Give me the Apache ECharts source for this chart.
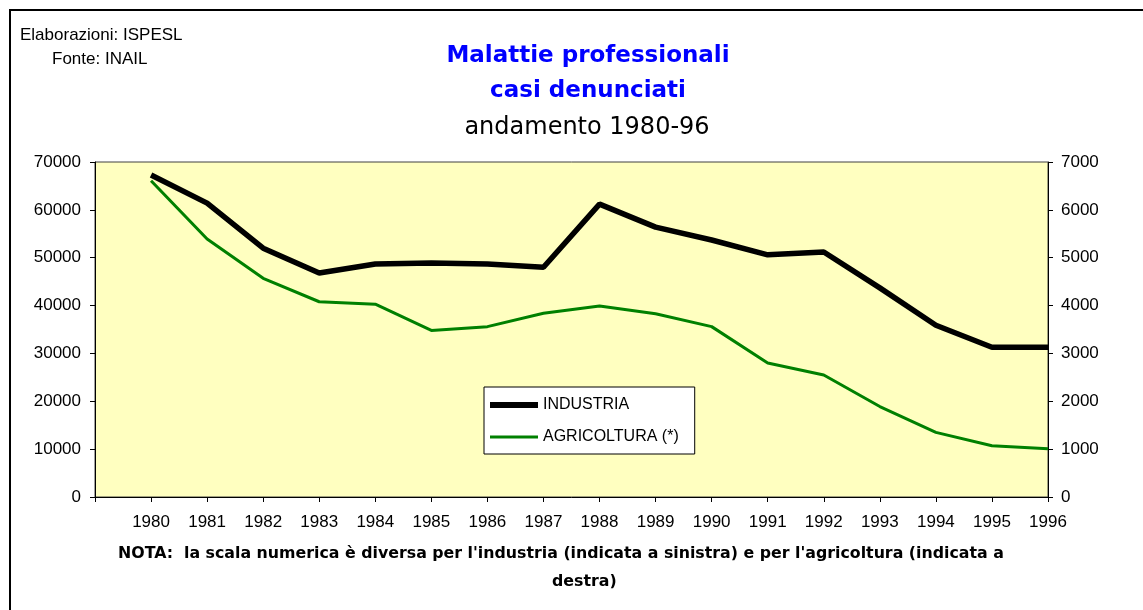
<!DOCTYPE html>
<html>
<head>
<meta charset="utf-8">
<script src="https://cdn.jsdelivr.net/npm/echarts@6/dist/echarts.min.js"></script>
<style>
html, body { margin: 0; padding: 0; background: #fff; }
#container { width: 1143px; height: 610px; }
</style>
</head>
<body>
<div id="container"></div>
<script>
// anni e valori
var anni = [1980, 1981, 1982, 1983, 1984, 1985, 1986, 1987, 1988, 1989, 1990, 1991, 1992, 1993, 1994, 1995, 1996];
// industria: scala a sinistra
var industria = [67300, 61400, 52000, 46800, 48700, 48900, 48700, 48000, 61200, 56400, 53700, 50600, 51200, 43700, 35900, 31300, 31300];
// agricoltura: scala a destra
var agricoltura = [6610, 5390, 4570, 4080, 4030, 3480, 3560, 3840, 3990, 3830, 3560, 2800, 2550, 1890, 1350, 1070, 1010];

var font = 'Liberation Sans, Arial, sans-serif';
var fontLargo = 'DejaVu Sans, sans-serif';

function coppie(valori) {
	var out = [];
	for (var i = 0; i < anni.length; i++) {
		out.push([anni[i], valori[i]]);
	}
	return out;
}

var option = {
	backgroundColor: '#fff',
	animation: false,
	title: [
		{
			text: 'Malattie professionali\ncasi denunciati',
			left: 583,
			top: 34,
			textAlign: 'center',
			textStyle: { fontFamily: fontLargo, fontSize: 23, fontWeight: 'bold', color: '#0000ff', lineHeight: 35 }
		},
		{
			text: 'andamento 1980-96',
			left: 582,
			top: 111,
			textAlign: 'center',
			textStyle: { fontFamily: fontLargo, fontSize: 24, fontWeight: 'normal', color: '#000' }
		}
	],
	graphic: [
		{
			type: 'rect',
			shape: { x: 10, y: 10, width: 1200, height: 700 },
			style: { fill: 'none', stroke: '#000', lineWidth: 2 }
		},
		{
			type: 'text', left: 20, top: 27,
			style: { text: 'Elaborazioni: ISPESL', font: '17px ' + font, fill: '#000' }
		},
		{
			type: 'text', left: 52, top: 51,
			style: { text: 'Fonte: INAIL', font: '17px ' + font, fill: '#000' }
		},
		{
			type: 'text', left: 118, top: 546,
			style: { text: "NOTA:  la scala numerica è diversa per l'industria (indicata a sinistra) e per l'agricoltura (indicata a", font: 'bold 15.8px ' + fontLargo, fill: '#000' }
		},
		{
			type: 'text', left: 552, top: 574,
			style: { text: 'destra)', font: 'bold 15.8px ' + fontLargo, fill: '#000' }
		}
	],
	legend: {
		left: 484,
		top: 387,
		orient: 'vertical',
		backgroundColor: '#fff',
		borderColor: '#000',
		borderWidth: 1,
		padding: [10, 16, 9, 6],
		itemWidth: 48,
		itemHeight: 6,
		itemGap: 16,
		textStyle: { fontFamily: font, fontSize: 16, color: '#000' },
		data: [
			{ name: 'INDUSTRIA', icon: 'path://M0,0H48V6H0Z' },
			{ name: 'AGRICOLTURA (*)', icon: 'path://M0,0H0M0,6H0M0,1.5H48V4.5H0Z' }
		]
	},
	grid: {
		left: 95,
		right: 95,
		top: 162,
		bottom: 113,
		show: true,
		backgroundColor: '#ffffc0',
		borderColor: '#404040',
		borderWidth: 1
	},
	xAxis: {
		type: 'value',
		min: 1979,
		max: 1996,
		interval: 1,
		splitLine: { show: false },
		axisLine: { lineStyle: { color: '#000' } },
		axisTick: { length: 5, lineStyle: { color: '#000' } },
		axisLabel: {
			margin: 17,
			fontFamily: font,
			fontSize: 17,
			color: '#000',
			formatter: function (v) { return v < 1980 ? '' : String(v); }
		}
	},
	yAxis: [
		{
			type: 'value',
			min: 0,
			max: 70000,
			interval: 10000,
			splitLine: { show: false },
			axisLine: { show: true, lineStyle: { color: '#000' } },
			axisTick: { show: true, length: 5, lineStyle: { color: '#000' } },
			axisLabel: { margin: 14, fontFamily: font, fontSize: 17, color: '#000', formatter: function (v) { return String(v); } }
		},
		{
			type: 'value',
			min: 0,
			max: 7000,
			interval: 1000,
			position: 'right',
			splitLine: { show: false },
			axisLine: { show: true, lineStyle: { color: '#000' } },
			axisTick: { show: true, length: 5, lineStyle: { color: '#000' } },
			axisLabel: { margin: 13, fontFamily: font, fontSize: 17, color: '#000', formatter: function (v) { return String(v); } }
		}
	],
	series: [
		{
			name: 'INDUSTRIA',
			type: 'line',
			yAxisIndex: 0,
			symbol: 'none',
			data: coppie(industria),
			lineStyle: { color: '#000', width: 5.5 },
			itemStyle: { color: '#000' }
		},
		{
			name: 'AGRICOLTURA (*)',
			type: 'line',
			yAxisIndex: 1,
			symbol: 'none',
			data: coppie(agricoltura),
			lineStyle: { color: '#008000', width: 3 },
			itemStyle: { color: '#008000' }
		}
	]
};

var myChart = echarts.init(document.getElementById('container'));
myChart.setOption(option);
</script>
</body>
</html>
